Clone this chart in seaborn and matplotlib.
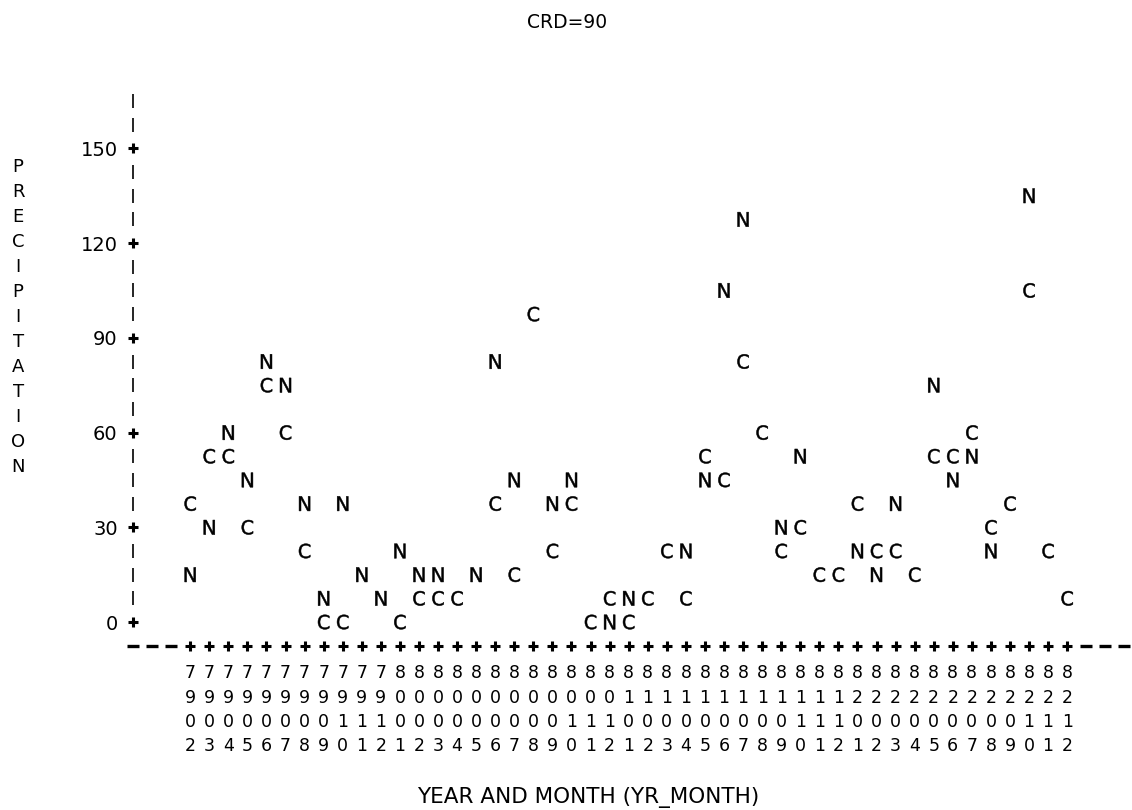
import numpy as np
import pandas as pd
import matplotlib
matplotlib.use("Agg")
import matplotlib.pyplot as plt
import seaborn as sns

# Monthly precipitation for crop reporting district 90: C and N series
months = [
    "7902", "7903", "7904", "7905", "7906", "7907", "7908", "7909", "7910", "7911", "7912",
    "8001", "8002", "8003", "8004", "8005", "8006", "8007", "8008", "8009", "8010", "8011", "8012",
    "8101", "8102", "8103", "8104", "8105", "8106", "8107", "8108", "8109", "8110", "8111", "8112",
    "8201", "8202", "8203", "8204", "8205", "8206", "8207", "8208", "8209", "8210", "8211", "8212",
]
nan = np.nan
c_vals = [
    37.5, 52.5, 52.5, 30, 75, 60, 22.5, 0, 0, nan, nan,
    0, 7.5, 7.5, 7.5, nan, 37.5, 15, 97.5, 22.5, 37.5, 0, 7.5,
    0, 7.5, 22.5, 7.5, 52.5, 45, 82.5, 60, 22.5, 30, 15, 15,
    37.5, 22.5, 22.5, 15, 52.5, 52.5, 60, 30, 37.5, 105, 22.5, 7.5,
]
n_vals = [
    15, 30, 60, 45, 82.5, 75, 37.5, 7.5, 37.5, 15, 7.5,
    22.5, 15, 15, nan, 15, 82.5, 45, nan, 37.5, 45, nan, 0,
    7.5, nan, nan, 22.5, 45, 105, 127.5, nan, 30, 52.5, nan, nan,
    22.5, 15, 37.5, nan, 75, 45, 52.5, 22.5, nan, 135, nan, nan,
]
y_ticks = [0, 30, 60, 90, 120, 150]

title = "CRD=90"
x_title = "YEAR AND MONTH (YR_MONTH)"
y_title = "PRECIPITATION"

pos = np.arange(len(months))
df = pd.concat([
    pd.DataFrame({"pos": pos, "month": months, "series": "C", "precip": c_vals}),
    pd.DataFrame({"pos": pos, "month": months, "series": "N", "precip": n_vals}),
]).dropna(subset=["precip"])

sns.set_style("white")
plt.rcParams["font.family"] = ["DejaVu Sans"]
plt.rcParams["mathtext.fontset"] = "dejavusans"
for key in ("text.color", "axes.labelcolor", "xtick.color", "ytick.color"):
    plt.rcParams[key] = "black"

fig = plt.figure(figsize=(11.32, 8.10), dpi=100)
ax = fig.add_axes([0.1175, 0.2028, 0.8825, 0.692])

row = 7.5  # one printer line
x_axis_y = -row
axis_col = -3

sns.scatterplot(
    data=df, x="pos", y="precip", style="series",
    markers={"C": r"$\mathsf{C}$", "N": r"$\mathsf{N}$"},
    color="black", s=110, edgecolor="black", linewidth=0.35,
    legend=False, ax=ax, clip_on=False, zorder=3,
)

# printer-style vertical axis: '|' on every line, '+' at labelled values
bar_rows = [v for v in np.arange(row, 165 + row / 2, row) if v % 30 != 0]
ax.plot([axis_col] * len(bar_rows), bar_rows, ls="none", marker="|",
        ms=10.5, mew=1.2, color="black", clip_on=False)
ax.plot([axis_col] * len(y_ticks), y_ticks, ls="none", marker="+",
        ms=6.5, mew=2.2, color="black", clip_on=False)

# printer-style horizontal axis: '+' under every month, dashes beyond
ax.plot(pos, [x_axis_y] * len(pos), ls="none", marker="+",
        ms=6.5, mew=2.2, color="black", clip_on=False)
dash_cols = [-3, -2, -1, len(months), len(months) + 1, len(months) + 2]
ax.plot(dash_cols, [x_axis_y] * len(dash_cols), ls="none", marker="_",
        ms=9, mew=2.4, color="black", clip_on=False)

ax.set_xlim(-3, 49.4)
ax.set_ylim(-7.5, 170)
for s in ax.spines.values():
    s.set_visible(False)

ax.set_xticks(pos)
ax.set_xticklabels(["\n".join(m) for m in months], linespacing=1.45, fontsize=12.5)
ax.tick_params(axis="x", length=0, pad=13.5)
ax.set_yticks(y_ticks)
ax.set_yticklabels([str(v) for v in y_ticks], fontsize=14)
ax.tick_params(axis="y", length=0, pad=11)

ax.set_xlabel(x_title, fontsize=15.5, va="center")
ax.xaxis.set_label_coords(0.456, -0.27)
ax.set_ylabel("\n".join(y_title), rotation=0, fontsize=13,
              linespacing=1.5, ha="center", va="center")
ax.yaxis.set_label_coords(-0.115, 0.586)

fig.text(567 / 1132, 1 - 22 / 810, title, ha="center", va="center", fontsize=13.5)

fig.savefig("out.png", dpi=100, facecolor="white")
